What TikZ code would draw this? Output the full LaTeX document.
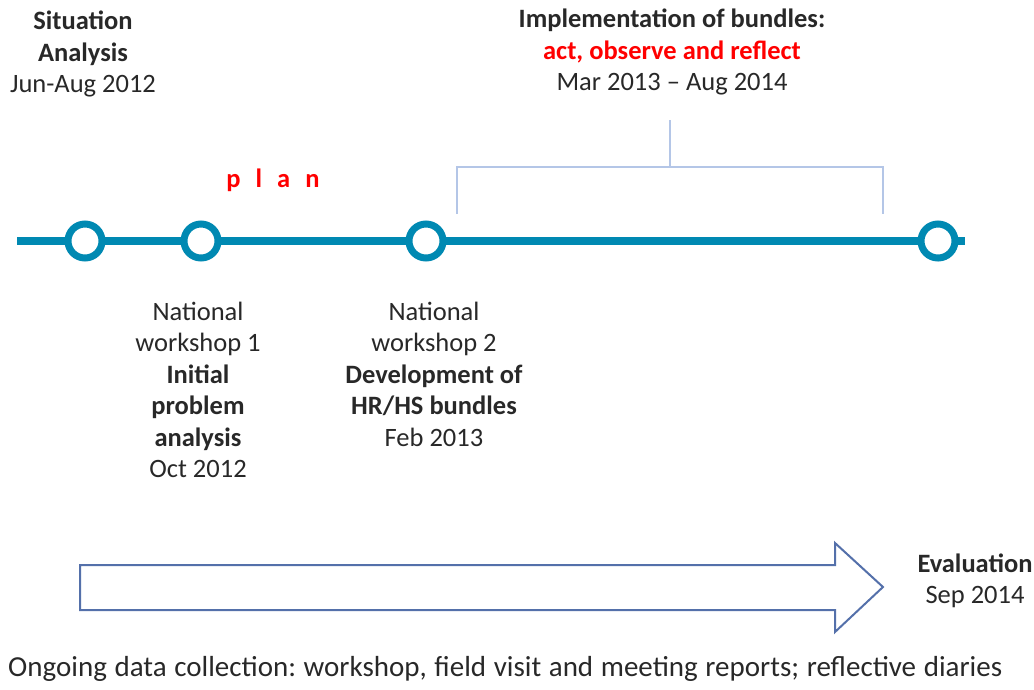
\documentclass[tikz,border=0pt]{standalone}
\usepackage{fontspec}
\setmainfont{Carlito}
\usetikzlibrary{calc}
\definecolor{tl}{RGB}{0,137,178}
\definecolor{brk}{RGB}{180,198,231}
\definecolor{arr}{RGB}{84,112,170}
\definecolor{txt}{RGB}{40,40,40}
\definecolor{redt}{RGB}{255,0,0}
\tikzset{
  lbl/.style={align=center, text=txt, inner sep=0pt, font=\fontsize{26.5}{31.5}\selectfont},
  ring/.style={circle, draw=tl, line width=7pt, fill=white, minimum size=34pt, inner sep=0pt},
  bracketline/.style={draw=brk, line width=2pt},
}
\begin{document}
\frenchspacing
\begin{tikzpicture}[x=1pt,y=-1pt]
\useasboundingbox (0,0) rectangle (1034,689);
% timeline
\coordinate (tlA) at (17,241);
\coordinate (tlB) at (965,241);
\draw[tl, line width=8pt] (tlA) -- (tlB);
\node[ring] (c1) at (85,241) {};
\node[ring] (c2) at (201,241) {};
\node[ring] (c3) at (426,241) {};
\node[ring] (c4) at (938,241) {};
% bracket
\coordinate (bL) at (457,214);
\coordinate (bLt) at (457,167);
\coordinate (bRt) at (883,167);
\coordinate (bR) at (883,214);
\coordinate (bM) at (670,167);
\coordinate (bTop) at (670,120);
\draw[bracketline] (bL) -- (bLt) -- (bRt) -- (bR);
\draw[bracketline] (bM) -- (bTop);
% texts
\node[lbl] (sit) at (83,54) {\textbf{Situation}\\\textbf{Analysis}\\Jun-Aug 2012};
\node[lbl, text=redt, font=\fontsize{26.5}{31.5}\selectfont\bfseries] (plan) at (273,180) {p\hspace{15pt}l\hspace{15pt}a\hspace{15pt}n};
\node[lbl] (impl) at (672,52) {\textbf{Implementation of bundles:}\\\textcolor{redt}{\textbf{act, observe and reflect}}\\Mar 2013 -- Aug 2014};
\node[lbl] (w1) at (198,390) {National\\workshop 1\\\textbf{Initial}\\\textbf{problem}\\\textbf{analysis}\\Oct 2012};
\node[lbl] (w2) at (434,374) {National\\workshop 2\\\textbf{Development of}\\\textbf{HR/HS bundles}\\Feb 2013};
\node[lbl] (ev) at (975,581) {\textbf{Evaluation}\\Sep 2014};
\node[lbl, anchor=west, font=\fontsize{29}{34}\selectfont] (ong) at (8,669) {\makebox[994pt][s]{Ongoing data collection: workshop, field visit and meeting reports; reflective diaries}};
% block arrow
\draw[arr, line width=2pt, fill=white, line join=miter]
  (80,565) -- (835,565) -- (835,543) -- (883,587) -- (835,632) -- (835,610) -- (80,610) -- cycle;
\end{tikzpicture}
\end{document}
